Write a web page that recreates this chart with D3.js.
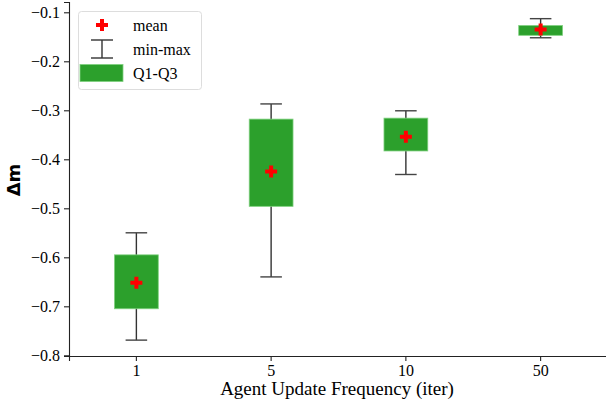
<!DOCTYPE html>
<html>
<head>
<meta charset="utf-8">
<script src="https://cdn.jsdelivr.net/npm/d3@7"></script>
<style>
  body { margin: 0; background: #fff; }
</style>
</head>
<body>
<script>
// values
let categories = ["1", "5", "10", "50"];
let mins  = [-0.769, -0.640, -0.431, -0.152];
let q1s   = [-0.705, -0.496, -0.383, -0.147];
let means = [-0.652, -0.425, -0.354, -0.135];
let q3s   = [-0.595, -0.318, -0.316, -0.127];
let maxs  = [-0.550, -0.287, -0.301, -0.113];
let yTicks = [-0.8, -0.7, -0.6, -0.5, -0.4, -0.3, -0.2, -0.1];

let rows = categories.map(function (c, i) {
    return { cat: c, min: mins[i], q1: q1s[i], mean: means[i], q3: q3s[i], max: maxs[i] };
});

let w = 606,
    h = 409;

let margin = { left: 69, right: -2, top: 2, bottom: 53 };
let serif = "'Liberation Serif', 'DejaVu Serif', serif";

let svg = d3.select("body").append("svg")
    .attr("width", w)
    .attr("height", h);

let x = d3.scaleBand()
    .domain(categories)
    .range([margin.left, w - margin.right])
    .paddingInner(0)
    .paddingOuter(0);

let y = d3.scaleLinear()
    .domain([-0.8014, -0.079])
    .range([h - margin.bottom, margin.top]);

let green = "#2ca02c";
let boxW = x.bandwidth() * 0.325,
    capW = x.bandwidth() * 0.16;

let cx = function (d) { return x(d.cat) + x.bandwidth() / 2; };

// axes
let xAxis = svg.append("g")
    .attr("transform", "translate(0," + (h - margin.bottom) + ")")
    .call(d3.axisBottom(x).tickSizeOuter(0).tickSize(5).tickPadding(4));

let yAxis = svg.append("g")
    .attr("transform", "translate(" + margin.left + ",0)")
    .call(d3.axisLeft(y).tickValues(yTicks).tickSizeOuter(0).tickSize(5).tickPadding(4)
        .tickFormat(function (d) { return d3.format(".1f")(d).replace("-", "\u2212"); }));

[xAxis, yAxis].forEach(function (a) {
    a.selectAll("path, line").attr("stroke", "#222").attr("stroke-width", 1.1);
    a.selectAll("text")
        .style("font-family", serif)
        .style("font-size", "16px")
        .attr("fill", "#000");
});

// whiskers
let g = svg.append("g");
g.selectAll("line.whisk")
    .data(rows).enter().append("line")
    .attr("class", "whisk")
    .attr("x1", cx).attr("x2", cx)
    .attr("y1", function (d) { return y(d.min); })
    .attr("y2", function (d) { return y(d.max); })
    .attr("stroke", "#333").attr("stroke-width", 1.4);

["min", "max"].forEach(function (k) {
    g.selectAll("line.cap-" + k)
        .data(rows).enter().append("line")
        .attr("class", "cap-" + k)
        .attr("x1", function (d) { return cx(d) - capW / 2; })
        .attr("x2", function (d) { return cx(d) + capW / 2; })
        .attr("y1", function (d) { return y(d[k]); })
        .attr("y2", function (d) { return y(d[k]); })
        .attr("stroke", "#444").attr("stroke-width", 1.4);
});

// boxes
g.selectAll("rect.box")
    .data(rows).enter().append("rect")
    .attr("class", "box")
    .attr("x", function (d) { return cx(d) - boxW / 2; })
    .attr("width", boxW)
    .attr("y", function (d) { return y(d.q3); })
    .attr("height", function (d) { return y(d.q1) - y(d.q3); })
    .attr("fill", green)
    .attr("stroke", "#7fd07f").attr("stroke-width", 0.8);

// mean markers (filled plus)
let plus = function (s) {
    let a = s / 2, b = s / 6;
    return "M" + (-b) + "," + (-a) + "H" + b + "V" + (-b) + "H" + a + "V" + b + "H" + b + "V" + a +
        "H" + (-b) + "V" + b + "H" + (-a) + "V" + (-b) + "H" + (-b) + "Z";
};
g.selectAll("path.mean")
    .data(rows).enter().append("path")
    .attr("class", "mean")
    .attr("d", plus(12))
    .attr("transform", function (d) { return "translate(" + cx(d) + "," + y(d.mean) + ")"; })
    .attr("fill", "#ff0000");

// axis labels
svg.append("text")
    .attr("x", 337)
    .attr("y", 395)
    .attr("text-anchor", "middle")
    .style("font-family", serif)
    .style("font-size", "19px")
    .text("Agent Update Frequency (iter)");

svg.append("text")
    .attr("transform", "translate(20,180) rotate(-90)")
    .attr("text-anchor", "middle")
    .style("font-family", "'DejaVu Sans', sans-serif")
    .style("font-weight", "bold")
    .style("font-size", "18px")
    .text("\u0394m");

// legend
let lg = svg.append("g");
lg.append("rect")
    .attr("x", 78.5).attr("y", 11.5).attr("width", 123).attr("height", 78)
    .attr("rx", 3)
    .attr("fill", "#fff").attr("fill-opacity", 0.8)
    .attr("stroke", "#ddd");

lg.append("path").attr("d", plus(12)).attr("transform", "translate(102,25)").attr("fill", "#ff0000");
lg.append("line").attr("x1", 102).attr("x2", 102).attr("y1", 40).attr("y2", 58).attr("stroke", "#333").attr("stroke-width", 1.4);
lg.append("line").attr("x1", 91).attr("x2", 113).attr("y1", 40).attr("y2", 40).attr("stroke", "#333").attr("stroke-width", 1.4);
lg.append("line").attr("x1", 91).attr("x2", 113).attr("y1", 58).attr("y2", 58).attr("stroke", "#333").attr("stroke-width", 1.4);
lg.append("rect").attr("x", 80).attr("y", 64.5).attr("width", 43).attr("height", 17)
    .attr("fill", green).attr("stroke", "#7fd07f").attr("stroke-width", 0.8);

let labels = ["mean", "min-max", "Q1-Q3"];
lg.selectAll("text.lab")
    .data(labels).enter().append("text")
    .attr("class", "lab")
    .attr("x", 133)
    .attr("y", function (d, i) { return 25 + i * 24; })
    .attr("dy", "0.35em")
    .style("font-family", serif)
    .style("font-size", "16px")
    .text(function (d) { return d; });
</script>
</body>
</html>
